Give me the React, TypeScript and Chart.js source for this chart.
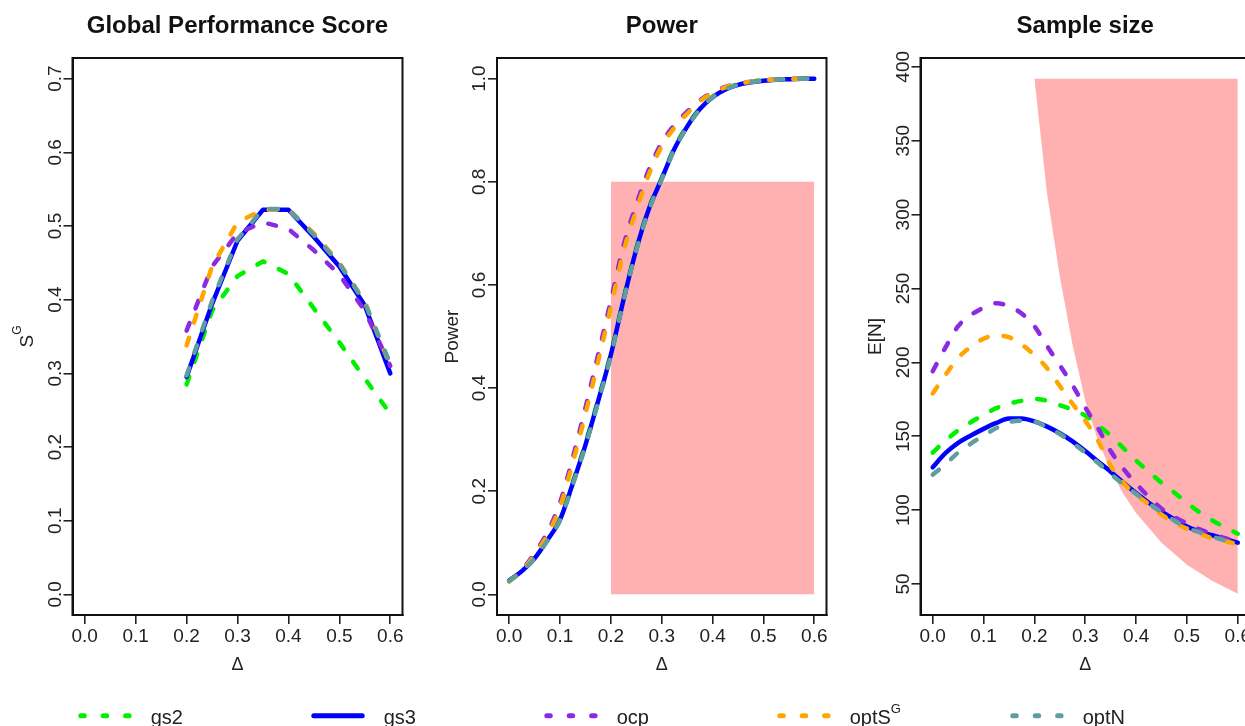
import React, { useEffect, useRef } from "react";
import { Chart, registerables } from "chart.js";
Chart.register(...registerables);

const FONT = "'Liberation Sans', Arial, Helvetica, sans-serif";

// ---------- colours ----------
const GREEN = "#00F000";
const BLUE = "#0000FF";
const PURPLE = "#8A2BE2";
const ORANGE = "#FFA500";
const TEAL = "#5F9EA0";
const REGION = "#FFB1B1";

// ---------- shared x ticks ----------
const xTickValues = [0, 0.1, 0.2, 0.3, 0.4, 0.5, 0.6];

// ---------- Panel 1: Global Performance Score ----------
const deltaScore = [0.2, 0.25, 0.3, 0.35, 0.4, 0.45, 0.5, 0.55, 0.6];
const scoreGs2 = [0.285, 0.385, 0.432, 0.452, 0.435, 0.388, 0.342, 0.293, 0.245];
const scoreGs3 = [0.295, 0.394, 0.48, 0.522, 0.522, 0.485, 0.445, 0.392, 0.3];
const scoreOcp = [0.358, 0.445, 0.49, 0.505, 0.496, 0.467, 0.434, 0.385, 0.31];
const scoreOptS = [0.338, 0.445, 0.505, 0.522, 0.522, 0.49, 0.45, 0.397, 0.31];
const scoreOptN = [0.297, 0.398, 0.482, 0.523, 0.523, 0.488, 0.449, 0.396, 0.313];
const scoreYTicks = [0, 0.1, 0.2, 0.3, 0.4, 0.5, 0.6, 0.7];
const scoreYLabels = ["0.0", "0.1", "0.2", "0.3", "0.4", "0.5", "0.6", "0.7"];

// ---------- Panel 2: Power ----------
const deltaPower = [0, 0.025, 0.05, 0.075, 0.1, 0.125, 0.15, 0.175, 0.2, 0.225, 0.25, 0.275, 0.3, 0.325, 0.35, 0.375, 0.4, 0.425, 0.45, 0.475, 0.5, 0.525, 0.55, 0.575, 0.6];
const powerGs2 = [0.027, 0.046, 0.071, 0.106, 0.147, 0.218, 0.293, 0.378, 0.468, 0.574, 0.671, 0.75, 0.808, 0.866, 0.909, 0.942, 0.965, 0.98, 0.989, 0.994, 0.997, 0.998, 0.999, 1.0, 1.0];
const powerGs3 = [0.027, 0.045, 0.07, 0.105, 0.145, 0.215, 0.29, 0.375, 0.465, 0.572, 0.669, 0.748, 0.806, 0.864, 0.907, 0.941, 0.964, 0.979, 0.988, 0.993, 0.996, 0.998, 0.999, 1.0, 1.0];
const powerOcp = [0.026, 0.047, 0.08, 0.12, 0.178, 0.265, 0.362, 0.465, 0.57, 0.677, 0.756, 0.824, 0.876, 0.91, 0.936, 0.958, 0.973, 0.984, 0.99, 0.994, 0.997, 0.998, 0.999, 1.0, 1.0];
const powerOptS = [0.025, 0.045, 0.077, 0.115, 0.17, 0.255, 0.35, 0.452, 0.557, 0.665, 0.745, 0.815, 0.869, 0.905, 0.932, 0.956, 0.972, 0.983, 0.99, 0.994, 0.997, 0.998, 0.999, 1.0, 1.0];
const powerOptN = [0.026, 0.045, 0.07, 0.104, 0.144, 0.213, 0.288, 0.373, 0.463, 0.57, 0.667, 0.746, 0.805, 0.863, 0.906, 0.94, 0.964, 0.979, 0.988, 0.993, 0.996, 0.998, 0.999, 1.0, 1.0];
const powerRectDelta = [0.2, 0.6];
const powerRectTop = [0.8, 0.8];
const powerRectBottom = [0, 0];
const powerYTicks = [0, 0.2, 0.4, 0.6, 0.8, 1.0];
const powerYLabels = ["0.0", "0.2", "0.4", "0.6", "0.8", "1.0"];

// ---------- Panel 3: Sample size ----------
const deltaN = [0, 0.025, 0.05, 0.075, 0.1, 0.125, 0.15, 0.175, 0.2, 0.225, 0.25, 0.275, 0.3, 0.325, 0.35, 0.375, 0.4, 0.425, 0.45, 0.475, 0.5, 0.525, 0.55, 0.575, 0.6];
const nGs2 = [139, 147, 154, 159.5, 164.5, 169, 172, 174, 175.3, 174, 171, 168, 164, 157.5, 150.5, 142, 133.5, 126, 118.5, 112, 105, 98.5, 93, 88.5, 84];
const nGs3 = [129, 138.5, 145.5, 150.5, 155, 159, 162, 162, 160, 156.5, 152, 146.5, 140, 133, 126, 118.5, 111.5, 105, 99, 94, 89, 85.5, 83, 80.5, 78];
const nOcp = [194, 210, 224.5, 232, 237, 240, 238, 233, 224.5, 211, 198, 184.5, 169.5, 155.5, 140, 128, 118, 109, 101, 95.5, 91, 87, 84, 81, 78.5];
const nOptS = [179, 191.5, 203, 210.5, 216, 218, 217, 212, 205, 196, 184, 172, 160.5, 147, 130, 118.5, 110.5, 104, 97, 91.5, 87.5, 84, 81, 79, 77];
const nOptN = [124, 131, 139, 145, 150.5, 155.5, 159.5, 160.5, 160, 156, 151.5, 145.5, 139, 132, 124.5, 117.5, 111, 104.5, 98.5, 93, 88, 85, 82, 79.5, 77];
const regionDelta = [0.2, 0.225, 0.25, 0.275, 0.3, 0.325, 0.35, 0.375, 0.4, 0.45, 0.5, 0.55, 0.6];
const regionTop = [392, 392, 392, 392, 392, 392, 392, 392, 392, 392, 392, 392, 392];
const regionBottom = [392, 314, 258, 212, 174, 147, 127, 111, 98, 78, 63, 52, 43.5];
const nYTicks = [50, 100, 150, 200, 250, 300, 350, 400];
const nYLabels = ["50", "100", "150", "200", "250", "300", "350", "400"];

// ---------- legend ----------
const legendLabels = ["gs2", "gs3", "ocp", "optS", "optN"];
const legendSups = ["", "", "", "G", ""];
const legendColors = [GREEN, BLUE, PURPLE, ORANGE, TEAL];
const legendDashed = [true, false, true, true, true];

const H = 726;
const BOX_TOP = 58;
const BOX_BOTTOM = 615;

const pts = (xs: number[], ys: number[]) => xs.map((x, i) => ({ x, y: ys[i] }));

function seriesDs(xs: number[], ys: number[], color: string, dashed: boolean, order: number, smooth: boolean) {
  return {
    data: pts(xs, ys),
    borderColor: color,
    backgroundColor: color,
    borderWidth: 4.5,
    borderDash: dashed ? [8, 16] : [],
    borderCapStyle: "round",
    borderJoinStyle: "round",
    pointRadius: 0,
    pointHoverRadius: 0,
    fill: false,
    order,
    tension: 0,
    cubicInterpolationMode: smooth ? "monotone" : "default",
  };
}

function regionDs(xs: number[], ys: number[], fill: any, order: number) {
  return {
    data: pts(xs, ys),
    borderColor: "rgba(0,0,0,0)",
    borderWidth: 0,
    backgroundColor: REGION,
    pointRadius: 0,
    pointHoverRadius: 0,
    fill,
    order,
    tension: 0,
  };
}

const decorPlugin = {
  id: "decor",
  afterDraw(chart: any, _args: any, opts: any) {
    const ctx = chart.ctx as CanvasRenderingContext2D;
    const a = chart.chartArea;
    ctx.save();
    // frame
    ctx.strokeStyle = "#111";
    ctx.lineWidth = 2;
    ctx.strokeRect(a.left, a.top, a.right - a.left, a.bottom - a.top);
    const cx = (a.left + a.right) / 2;
    // title
    ctx.fillStyle = "#111";
    ctx.textAlign = "center";
    ctx.textBaseline = "alphabetic";
    ctx.font = `bold 24px ${FONT}`;
    ctx.fillText(opts.title, cx, 33);
    // x label
    ctx.fillStyle = "#222";
    ctx.font = `18px ${FONT}`;
    ctx.fillText("\u0394", cx, 669.5);
    // y tick labels (rotated, as in base R)
    const ys = chart.scales.y;
    ctx.font = `19px ${FONT}`;
    ys.ticks.forEach((t: any, i: number) => {
      const py = ys.getPixelForValue(t.value);
      ctx.save();
      ctx.translate(a.left - 12, py);
      ctx.rotate(-Math.PI / 2);
      ctx.textAlign = "center";
      ctx.fillText(opts.yLabels[i], 0, 0);
      ctx.restore();
    });
    // y title
    const cy = (a.top + a.bottom) / 2;
    ctx.save();
    ctx.translate(a.left - 39.5, cy);
    ctx.rotate(-Math.PI / 2);
    ctx.textAlign = "left";
    ctx.font = `19px ${FONT}`;
    const w1 = ctx.measureText(opts.yTitle).width;
    let w2 = 0;
    if (opts.ySup) {
      ctx.font = `12px ${FONT}`;
      w2 = ctx.measureText(opts.ySup).width;
    }
    const start = -(w1 + w2) / 2;
    ctx.font = `19px ${FONT}`;
    ctx.fillText(opts.yTitle, start, 0);
    if (opts.ySup) {
      ctx.font = `12px ${FONT}`;
      ctx.fillText(opts.ySup, start + w1, -12);
    }
    ctx.restore();
    ctx.restore();
  },
};

type PanelSpec = {
  width: number;
  boxLeft: number;
  boxRight: number;
  yMin: number;
  yMax: number;
  yTicks: number[];
  yLabels: string[];
  title: string;
  yTitle: string;
  ySup?: string;
  datasets: any[];
};

function makeConfig(p: PanelSpec): any {
  const tickGrid = { display: true, drawOnChartArea: false, drawTicks: true, tickLength: 9, color: "#222", lineWidth: 1.6 };
  return {
    type: "line",
    data: { datasets: p.datasets },
    plugins: [decorPlugin],
    options: {
      responsive: false,
      animation: false,
      devicePixelRatio: 1,
      events: [],
      layout: { padding: { top: BOX_TOP, right: p.width - p.boxRight, left: 0, bottom: 0 } },
      plugins: {
        legend: { display: false },
        tooltip: { enabled: false },
        title: { display: false },
        decor: { title: p.title, yTitle: p.yTitle, ySup: p.ySup, yLabels: p.yLabels },
      },
      scales: {
        x: {
          type: "linear",
          min: -0.024,
          max: 0.624,
          afterBuildTicks: (s: any) => {
            s.ticks = xTickValues.map((v) => ({ value: v }));
          },
          afterFit: (s: any) => {
            s.height = H - BOX_BOTTOM;
          },
          ticks: {
            callback: (v: any) => Number(v).toFixed(1),
            font: { size: 19, family: FONT },
            color: "#222",
            padding: 1,
            autoSkip: false,
            maxRotation: 0,
            minRotation: 0,
          },
          grid: tickGrid,
          border: { display: true, color: "#111", width: 2 },
        },
        y: {
          type: "linear",
          min: p.yMin,
          max: p.yMax,
          afterBuildTicks: (s: any) => {
            s.ticks = p.yTicks.map((v) => ({ value: v }));
          },
          afterFit: (s: any) => {
            s.width = p.boxLeft;
          },
          ticks: { display: false },
          grid: tickGrid,
          border: { display: true, color: "#111", width: 2 },
        },
      },
    },
  };
}

const panel1: PanelSpec = {
  width: 415,
  boxLeft: 72.5,
  boxRight: 402.5,
  yMin: -0.028,
  yMax: 0.728,
  yTicks: scoreYTicks,
  yLabels: scoreYLabels,
  title: "Global Performance Score",
  yTitle: "S",
  ySup: "G",
  datasets: [
    seriesDs(deltaScore, scoreGs2, GREEN, true, 5, false),
    seriesDs(deltaScore, scoreGs3, BLUE, false, 4, false),
    seriesDs(deltaScore, scoreOcp, PURPLE, true, 3, false),
    seriesDs(deltaScore, scoreOptS, ORANGE, true, 2, false),
    seriesDs(deltaScore, scoreOptN, TEAL, true, 1, false),
  ],
};

const panel2: PanelSpec = {
  width: 420,
  boxLeft: 82,
  boxRight: 411.5,
  yMin: -0.04,
  yMax: 1.04,
  yTicks: powerYTicks,
  yLabels: powerYLabels,
  title: "Power",
  yTitle: "Power",
  datasets: [
    regionDs(powerRectDelta, powerRectTop, "+1", 100),
    regionDs(powerRectDelta, powerRectBottom, false, 101),
    seriesDs(deltaPower, powerGs2, GREEN, true, 5, true),
    seriesDs(deltaPower, powerGs3, BLUE, false, 4, true),
    seriesDs(deltaPower, powerOcp, PURPLE, true, 3, true),
    seriesDs(deltaPower, powerOptS, ORANGE, true, 2, true),
    seriesDs(deltaPower, powerOptN, TEAL, true, 1, true),
  ],
};

const panel3: PanelSpec = {
  width: 430,
  boxLeft: 85.5,
  boxRight: 415,
  yMin: 29.04,
  yMax: 405.96,
  yTicks: nYTicks,
  yLabels: nYLabels,
  title: "Sample size",
  yTitle: "E[N]",
  datasets: [
    regionDs(regionDelta, regionTop, "+1", 100),
    regionDs(regionDelta, regionBottom, false, 101),
    seriesDs(deltaN, nGs2, GREEN, true, 5, true),
    seriesDs(deltaN, nGs3, BLUE, false, 4, true),
    seriesDs(deltaN, nOcp, PURPLE, true, 3, true),
    seriesDs(deltaN, nOptS, ORANGE, true, 2, true),
    seriesDs(deltaN, nOptN, TEAL, true, 1, true),
  ],
};

function Panel({ spec, left }: { spec: PanelSpec; left: number }) {
  const ref = useRef<HTMLCanvasElement>(null);
  useEffect(() => {
    if (!ref.current) return;
    const chart = new Chart(ref.current, makeConfig(spec));
    return () => chart.destroy();
  }, [spec]);
  return (
    <canvas
      ref={ref}
      width={spec.width}
      height={H}
      style={{ position: "absolute", left, top: 0, width: spec.width, height: H }}
    />
  );
}

function Legend() {
  const step = 233;
  const x0 = 78.3;
  const lineY = 715.7;
  return (
    <svg width={1245} height={H} style={{ position: "absolute", left: 0, top: 0, pointerEvents: "none" }}>
      {legendLabels.map((lab, i) => {
        const sx = x0 + i * step;
        const dashed = legendDashed[i];
        return (
          <g key={lab}>
            <line
              x1={sx + 2.5}
              x2={sx + 53.4 - 2.5}
              y1={lineY}
              y2={lineY}
              stroke={legendColors[i]}
              strokeWidth={5}
              strokeLinecap="round"
              strokeDasharray={dashed ? "3.5 18.9" : undefined}
            />
            <text x={sx + 72.4} y={723.5} fontFamily={FONT} fontSize={20} fill="#222">
              {lab}
              {legendSups[i] ? (
                <tspan dy={-11} fontSize={13}>
                  {legendSups[i]}
                </tspan>
              ) : null}
            </text>
          </g>
        );
      })}
    </svg>
  );
}

export default function App() {
  return (
    <div style={{ position: "absolute", left: 0, top: 0, width: 1245, height: H, overflow: "hidden", background: "#fff" }}>
      <Panel spec={panel1} left={0} />
      <Panel spec={panel2} left={415} />
      <Panel spec={panel3} left={835} />
      <Legend />
    </div>
  );
}
